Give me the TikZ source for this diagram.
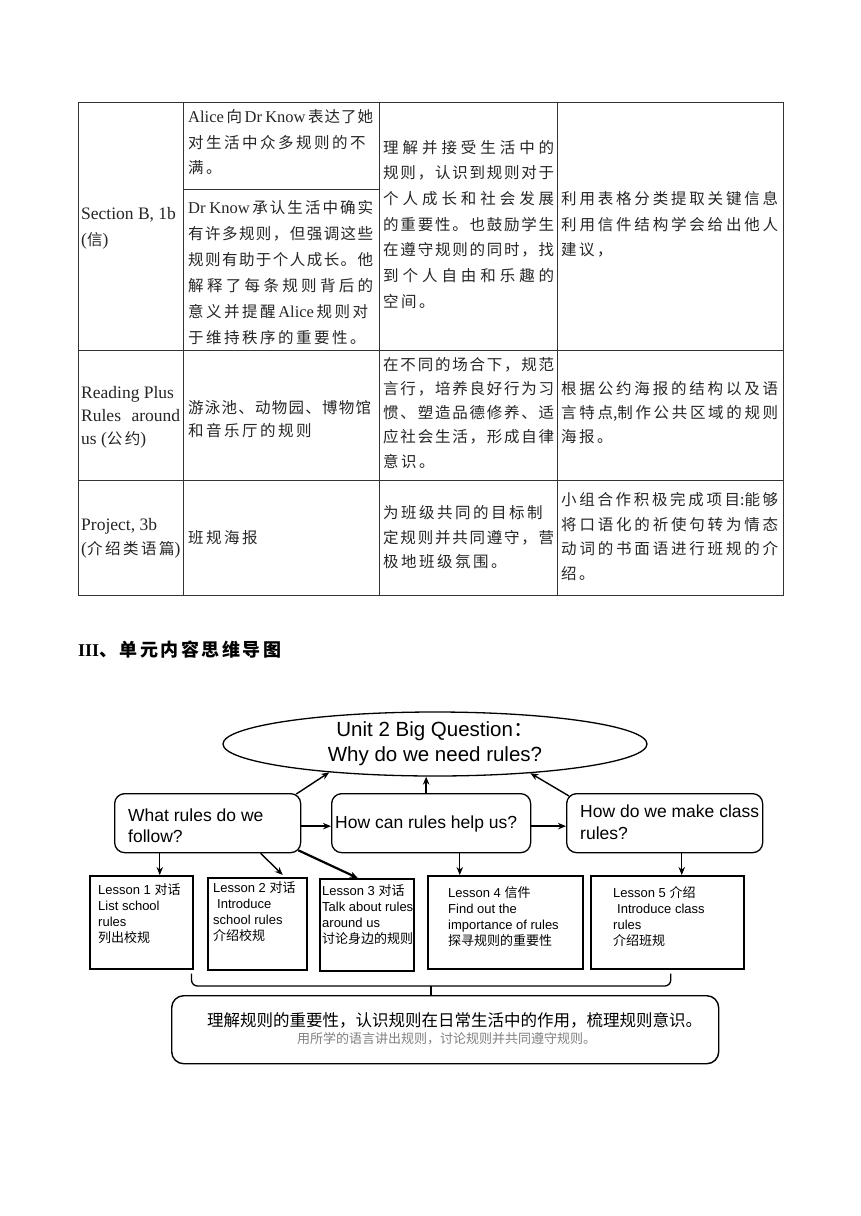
\documentclass[tikz,border=0pt]{standalone}
\usepackage{fontspec}
\setmainfont{Liberation Serif}
\newfontfamily\cjkfont{Noto Sans CJK SC}
\newfontfamily\sansfont{Liberation Sans}
\usetikzlibrary{shapes.geometric,arrows.meta,calc}
% inter-character glue between CJK characters (justification)
\newdimen\cjksp \cjksp=2.5pt
\def\cjkglue{\hskip\cjksp plus 1fil minus\cjksp}
\XeTeXinterchartokenstate=1
\newXeTeXintercharclass\CJKcls
\newcount\cjkcc
\cjkcc="3000 \loop\XeTeXcharclass\cjkcc=\CJKcls \advance\cjkcc by 1 \ifnum\cjkcc<"3040 \repeat
\cjkcc="4E00 \loop\XeTeXcharclass\cjkcc=\CJKcls \advance\cjkcc by 1 \ifnum\cjkcc<"A000 \repeat
\cjkcc="FF00 \loop\XeTeXcharclass\cjkcc=\CJKcls \advance\cjkcc by 1 \ifnum\cjkcc<"FF60 \repeat
\XeTeXinterchartoks\CJKcls\CJKcls={\cjkglue}
\newcommand\lat[1]{{\rmfamily\fontsize{16.5}{16.5}\selectfont #1}}
\newcommand\latb[1]{{\rmfamily\fontsize{17.5}{17.5}\selectfont #1}}
\newcommand\zh[1]{{\cjkfont #1}}
\newcounter{tn}
\tikzset{
  tab/.style={draw=black!80, line width=0.9pt},
  tx/.style={anchor=base west, inner sep=0pt, text=black!85,
    font=\cjkfont\fontsize{15.5}{18}\selectfont},
  lt/.style={anchor=base west, inner sep=0pt,
    font=\sansfont\fontsize{13}{16}\selectfont},
  qt/.style={anchor=base west, inner sep=0pt,
    font=\sansfont\fontsize{17.5}{21}\selectfont},
  qbox/.style={draw=black, line width=1.3pt, rounded corners=10pt, inner sep=0pt, anchor=north west},
  lbox/.style={draw=black, line width=1.5pt, inner sep=0pt, anchor=north west},
  arr/.style={line width=1.4pt, -{Stealth[length=8pt,width=6.5pt]}},
}
\newcommand\TX[3]{\stepcounter{tn}\node[tx] (t\arabic{tn}) at (#1,#2) {#3};}
\newcommand\TJ[4]{\stepcounter{tn}\node[tx] (t\arabic{tn}) at (#1,#2) {\hbox to #3pt{#4}};}
\newcommand\LT[3]{\stepcounter{tn}\node[lt] (t\arabic{tn}) at (#1,#2) {#3};}
\newcommand\QT[3]{\stepcounter{tn}\node[qt] (t\arabic{tn}) at (#1,#2) {#3};}
\begin{document}
\begin{tikzpicture}[x=1pt,y=-1pt]
\useasboundingbox (0,0) rectangle (860,1216);
\fill[white] (0,0) rectangle (860,1216);
% ---------------- table ----------------
\draw[tab] (78,102) rectangle (783,595);
\draw[tab] (183,102) -- (183,595) (379,102) -- (379,595) (557,102) -- (557,595);
\draw[tab] (78,350) -- (783,350) (78,480) -- (783,480) (183,189) -- (379,189);
% col 1
\TX{81}{219}{\latb{Section B, 1b}}
\TX{81}{245}{\latb{(}信\latb{)}}
\TX{81}{398.6}{\latb{Reading Plus}}
\TJ{81}{421.6}{99}{\latb{Rules\hfil around}}
\TX{81}{444.6}{\latb{us (}公约\latb{)}}
\TX{81}{530.6}{\latb{Project, 3b}}
\TX{81}{554.6}{\latb{(}介绍类语篇\latb{)}}
% col 2
\TJ{188}{122.6}{185}{\lat{Alice}\,向\,\lat{Dr Know}\,表达了她}
\TX{188}{148.6}{对生活中众多规则的不}
\TX{188}{173.6}{满。}
\TJ{188}{213.6}{185}{\lat{Dr Know}\,承认生活中确实}
\TJ{188}{239.6}{185}{有许多规则，但强调这些}
\TJ{188}{265.6}{185}{规则有助于个人成长。他}
\TJ{188}{291.6}{185}{解释了每条规则背后的}
\TX{188}{317.6}{意义并提醒\,\lat{Alice}\,规则对}
\TX{188}{343.6}{于维持秩序的重要性。}
\TJ{188}{413.6}{183}{游泳池、动物园、博物馆}
\TX{188}{436.6}{和音乐厅的规则}
\TX{188}{543.6}{班规海报}
% col 3
\TJ{383}{153.6}{171}{理解并接受生活中的}
\TJ{383}{178.6}{171}{规则，认识到规则对于}
\TJ{383}{204.6}{171}{个人成长和社会发展}
\TJ{383}{230.6}{171}{的重要性。也鼓励学生}
\TJ{383}{255.6}{171}{在遵守规则的同时，找}
\TJ{383}{281.6}{171}{到个人自由和乐趣的}
\TX{383}{307.6}{空间。}
\TJ{383}{370.6}{171}{在不同的场合下，规范}
\TJ{383}{394.6}{171}{言行，培养良好行为习}
\TJ{383}{418.6}{171}{惯、塑造品德修养、适}
\TJ{383}{442.6}{171}{应社会生活，形成自律}
\TX{383}{467.6}{意识。}
\TX{383}{518.6}{为班级共同的目标制}
\TJ{383}{543.6}{171}{定规则并共同遵守，营}
\TX{383}{567.6}{极地班级氛围。}
% col 4
\TJ{561}{204.6}{217}{利用表格分类提取关键信息}
\TJ{561}{230.6}{217}{利用信件结构学会给出他人}
\TX{561}{255.6}{建议，}
\TJ{561}{394.6}{217}{根据公约海报的结构以及语}
\TJ{561}{418.6}{217}{言特点,制作公共区域的规则}
\TX{561}{442.6}{海报。}
\TJ{561}{505.6}{217}{小组合作积极完成项目:能够}
\TJ{561}{530.6}{217}{将口语化的祈使句转为情态}
\TJ{561}{554.6}{217}{动词的书面语进行班规的介}
\TX{561}{579.6}{绍。}
% heading
\node[anchor=base west, inner sep=0pt] (hd) at (78,656)
  {\rmfamily\bfseries\fontsize{18}{18}\selectfont III{\cjkfont\bfseries 、单元内容思维导图}};
% ---------------- mind map ----------------
\begin{scope}
\cjksp=0pt
\node[draw=black, line width=1.3pt, ellipse, minimum width=424pt, minimum height=64pt,
  inner sep=0pt, align=center, font=\sansfont\fontsize{20.5}{25}\selectfont]
  (ell) at (435,744) {Unit 2 Big Question\zh{：}\\Why do we need rules?};
\node[qbox, minimum width=186pt, minimum height=59pt] (qa) at (114,793) {};
\node[qbox, minimum width=199pt, minimum height=59pt] (qb) at (331,793) {};
\node[qbox, minimum width=196pt, minimum height=59pt] (qc) at (566,793) {};
\QT{128}{821}{What rules do we}
\QT{128}{842}{follow?}
\QT{335}{828}{How can rules help us?}
\QT{580}{817}{How do we make class}
\QT{580}{839}{rules?}
\node[lbox, minimum width=103pt, minimum height=93pt] (l1) at (89,875) {};
\node[lbox, minimum width=99pt, minimum height=92pt] (l2) at (207,877) {};
\node[lbox, minimum width=94pt, minimum height=92pt] (l3) at (319,878) {};
\node[lbox, minimum width=155pt, minimum height=93pt] (l4) at (427,875) {};
\node[lbox, minimum width=153pt, minimum height=93pt] (l5) at (590,875) {};
\LT{98}{894}{Lesson 1 \zh{对话}}
\LT{98}{910}{List school}
\LT{98}{926}{rules}
\LT{98}{942}{\zh{列出校规}}
\LT{213}{892}{Lesson 2 \zh{对话}}
\LT{217}{908}{Introduce}
\LT{213}{924}{school rules}
\LT{213}{940}{\zh{介绍校规}}
\LT{322}{895}{Lesson 3 \zh{对话}}
\LT{322}{911}{Talk about rules}
\LT{322}{927}{around us}
\LT{322}{943}{\zh{讨论身边的规则}}
\LT{448}{897}{Lesson 4 \zh{信件}}
\LT{448}{913}{Find out the}
\LT{448}{929}{importance of rules}
\LT{448}{945}{\zh{探寻规则的重要性}}
\LT{613}{897}{Lesson 5 \zh{介绍}}
\LT{617}{913}{Introduce class}
\LT{613}{929}{rules}
\LT{613}{945}{\zh{介绍班规}}
\node[draw=black, line width=1.4pt, rounded corners=12pt, inner sep=0pt, anchor=north west,
  minimum width=547pt, minimum height=68pt] (sum) at (171,995) {};
\node[anchor=base west, inner sep=0pt, font=\cjkfont\fontsize{16.5}{16.5}\selectfont]
  (s1) at (207,1026) {理解规则的重要性，认识规则在日常生活中的作用，梳理规则意识。};
\node[anchor=base west, inner sep=0pt, text=black!50, font=\cjkfont\fontsize{13}{13}\selectfont]
  (s2) at (297,1043) {用所学的语言讲出规则，讨论规则并共同遵守规则。};
% arrows
\draw[arr] ([xshift=-5pt,yshift=-1pt]qa.north east) -- (ell.195);
\coordinate (pb) at ([xshift=-5pt]qb.north);
\draw[arr] (pb) -- (pb |- ell.south);
\draw[arr] ([xshift=3pt,yshift=-3pt]qc.north west) -- (ell.343);
\draw[arr] ([yshift=-3pt]qa.east) -- ([yshift=-3pt]qb.west);
\draw[arr] ([yshift=-3pt]qb.east) -- ([yshift=-3pt]qc.west);
\coordinate (p1) at ([xshift=18.5pt]l1.north);
\draw[arr] (p1 |- qa.south) -- (p1);
\draw[arr] ([xshift=53pt]qa.south) -- ([xshift=25.5pt,yshift=2pt]l2.north);
\draw[arr, line width=2.2pt] ([xshift=-3pt,yshift=3pt]qa.south east) -- ([xshift=-9pt]l3.north);
\coordinate (p4) at ([xshift=-45.5pt]l4.north);
\draw[arr] (p4 |- qb.south) -- (p4);
\coordinate (p5) at ([xshift=14.5pt]l5.north);
\draw[arr] (p5 |- qc.south) -- (p5);
% brace to summary
\coordinate (bl) at ([xshift=-2pt,yshift=-4pt]l1.south east);
\coordinate (br) at ([xshift=3.5pt,yshift=-4pt]l5.south);
\coordinate (bm) at (431,986);
\draw[line width=1.3pt, rounded corners=6pt] (bl) -- (bl |- bm) -- (br |- bm) -- (br);
\draw[line width=1.3pt] (bm) -- (bm |- sum.north);
\end{scope}
\end{tikzpicture}
\end{document}
